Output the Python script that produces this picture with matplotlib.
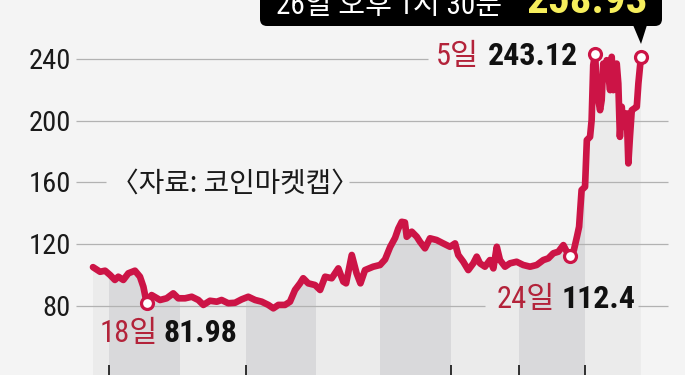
import matplotlib
matplotlib.use("Agg")
import matplotlib.pyplot as plt
from matplotlib import font_manager as fm
from matplotlib.patches import Polygon, FancyBboxPatch
from matplotlib.transforms import IdentityTransform, blended_transform_factory

# ---------------- data ----------------
days = [0, 3.1, 5.3, 7.5, 9.6, 11.1, 13.3, 15.5, 18.4, 20.6, 22.1, 23.5, 25.7, 29.4, 32.3,
        35.2, 37.4, 40.4, 43.3, 46.2, 48.4, 51.3, 54.3, 56.4, 59.3, 62.3, 65.2, 68.1, 71.1,
        74.0, 76.9, 79.1, 81.3, 84.2, 86.4, 88.6, 90.8, 92.2, 94.4, 97.4, 99.6, 101.8, 104.7,
        107.6, 109.8, 111.0, 113.5, 115.6, 117.3, 119.3, 122.9, 125.9, 128.1, 130.3, 132.5,
        133.9, 135.4, 136.8, 137.6, 139.8, 142.0, 143.4, 145.6, 147.8, 150.7, 153.6, 156.6,
        158.8, 160.2, 162.4, 164.6, 166.8, 168.3, 169.7, 171.9, 174.1, 175.6, 177.1, 178.5,
        180.7, 182.9, 185.8, 188.7, 191.7, 194.6, 197.5, 199.7, 201.9, 204.1, 206.3, 207.8,
        209.2, 210.9, 212.3, 213.2, 214.3, 215.8, 216.6, 218.0, 218.7, 219.4, 220.2, 221.1,
        222.4, 223.1, 223.8, 224.6, 225.3, 226.8, 227.5, 228.2, 229.7, 230.4, 231.1, 231.9,
        232.6, 234.1, 234.8, 235.5, 236.3, 237.4, 238.5, 239.2, 240.3]
values = [105.0, 102.0, 102.7, 99.9, 96.7, 98.8, 96.7, 101.0, 102.7, 98.8, 92.3, 81.98, 86.9,
          83.7, 84.8, 88.0, 84.8, 84.8, 85.8, 83.7, 80.5, 83.2, 82.6, 83.7, 81.6, 81.9, 84.1,
          85.8, 83.7, 82.6, 80.5, 78.3, 80.5, 80.5, 82.6, 90.2, 94.5, 97.8, 94.5, 93.4, 90.2,
          98.8, 97.8, 104.2, 95.6, 94.5, 112.9, 101.0, 94.5, 103.1, 105.3, 106.4, 110.0, 118.0,
          124.0, 130.0, 134.4, 134.0, 124.7, 128.0, 124.7, 121.5, 117.2, 123.7, 122.6, 120.4,
          118.2, 120.4, 112.9, 108.5, 103.1, 107.5, 111.8, 107.5, 105.3, 109.6, 104.2, 118.2,
          109.6, 105.3, 107.5, 108.5, 106.4, 105.3, 106.4, 109.6, 110.7, 114.0, 115.0, 119.3,
          115.0, 112.4, 116.0, 125.0, 131.2, 155.0, 157.1, 187.4, 189.5, 200.3, 236.0, 243.12,
          218.0, 206.8, 213.3, 237.0, 228.4, 239.2, 219.8, 241.4, 219.8, 237.0, 224.1, 189.5,
          209.0, 196.0, 204.7, 172.3, 189.5, 206.8, 207.9, 209.0, 224.1, 241.0]

month_edges = [0, 7, 38, 67, 98, 126, 157, 187, 216, 240.3]
tick_days = [7, 67, 157, 187, 216]
y_ticks = [80, 120, 160, 200, 240]
y_tick_labels = ["80", "120", "160", "200", "240"]

marker_days = [23.5, 209.2, 220.2, 240.3]
label_dates = ["18일", "24일", "5일"]
label_values = ["81.98", "112.4", "243.12"]
source_text = "〈자료: 코인마켓캡〉"
title_time = "26일 오후 1시 30분"
title_value = "258.93"

# ---------------- style ----------------
W, H = 685, 375
BG = "#f4f4f4"
BAND_LIGHT = "#ebebeb"
BAND_DARK = "#d9d9db"
GRID = "#b2b2b2"
LINE = "#cc1446"
RED_TXT = "#b3233a"
BLACK = "#111111"
YELLOW = "#f6ee5c"

names = {f.name for f in fm.fontManager.ttflist}
NUM, scale = "Liberation Sans", 0.82
for cand in ["Liberation Sans Narrow", "Roboto Condensed", "DejaVu Sans Condensed"]:
    if cand in names:
        NUM, scale = cand, 1.0
        break
KR = "Noto Sans CJK KR"

# pixel layout -> data helpers (layout only)
X0PX, PXD = 93.0, 2.28            # px of day 0, px per day
Y80PX, PXV = 305.7, 1.542         # px of value 80, px per unit
def dx(px):
    return (px - X0PX) / PXD
def vy(py):
    return 80 + (Y80PX - py) / PXV

fig = plt.figure(figsize=(W / 100, H / 100), dpi=100, facecolor=BG)
ax = fig.add_axes([0, 0, 1, 1])
ax.set_facecolor(BG)
ax.set_xlim(dx(0), dx(W))
ax.set_ylim(vy(H), vy(0))
for s in ax.spines.values():
    s.set_visible(False)
ax.set_yticks([])
ax.set_xticks(tick_days)
ax.tick_params(axis="x", direction="in", length=7.5, width=1.2, color=BLACK,
               labelbottom=False)

# area under the curve with alternating month bands
ybot = vy(H)
verts = [(days[0], ybot)] + list(zip(days, values)) + [(days[-1], ybot)]
clip = Polygon(verts, closed=True, facecolor="none", edgecolor="none")
ax.add_patch(clip)
for i in range(len(month_edges) - 1):
    c = BAND_LIGHT if i % 2 == 0 else BAND_DARK
    span = ax.axvspan(month_edges[i], month_edges[i + 1], color=c, lw=0, zorder=1)
    span.set_clip_path(clip)

# gridlines (broken where labels sit)
grid_segments = {80: [(76, 485), (638, 668)], 120: [(76, 668)],
                 160: [(76, 106), (349, 668)], 200: [(76, 668)], 240: [(76, 428)]}
for yv in y_ticks:
    for a, b in grid_segments[yv]:
        ax.plot([dx(a), dx(b)], [yv, yv], color=GRID, lw=0.9, zorder=2,
                solid_capstyle="butt")

# y labels
tr = blended_transform_factory(ax.transAxes, ax.transData)
for yv, lab in zip(y_ticks, y_tick_labels):
    ax.text(71 / W, yv - 6.4, lab, transform=tr, ha="right", va="baseline",
            fontsize=20.5 * scale, family=NUM, color="#1a1a1a", zorder=5)

# line
ax.plot(days, values, color=LINE, lw=4.8, solid_joinstyle="round",
        solid_capstyle="round", zorder=3)
idx = [days.index(d) for d in marker_days]
ax.plot([days[i] for i in idx], [values[i] for i in idx], "o", ms=8.6, mew=2.3,
        mfc="white", mec=LINE, zorder=4)

# labels
lab_pos = [((158, 342), (164, 342)), ((555, 308), (562, 308)), ((479, 65), (488, 65))]
for (rp, bp), dlab, vlab in zip(lab_pos, label_dates, label_values):
    ax.text(dx(rp[0]), vy(rp[1]), dlab, ha="right", va="baseline", color=RED_TXT,
            fontsize=22 * scale, family=[NUM, KR], zorder=5)
    ax.text(dx(bp[0]), vy(bp[1]), vlab, ha="left", va="baseline", color=BLACK,
            fontsize=23 * scale, family=NUM, fontweight="bold", zorder=5)

ax.text(dx(111), vy(192), source_text, ha="left", va="baseline", color="#1a1a1a",
        fontsize=20, family=[KR, "DejaVu Sans"], zorder=5)

# title box with pointer
box = FancyBboxPatch((260, H - 26), 402, 40, boxstyle="round,pad=0,rounding_size=7",
                     transform=IdentityTransform(), facecolor="black", edgecolor="none",
                     clip_on=False, zorder=6)
ax.add_patch(box)
tri = Polygon([(633, H - 25), (647, H - 25), (641, H - 44)], closed=True,
              transform=IdentityTransform(), facecolor="black", edgecolor="none",
              clip_on=False, zorder=6)
ax.add_patch(tri)
fig.text(276 / W, 1 - 14 / H, title_time, ha="left", va="baseline", color="white",
         fontsize=21, family=[NUM, KR], zorder=7)
fig.text(527 / W, 1 - 13 / H, title_value, ha="left", va="baseline", color=YELLOW,
         fontsize=31 * scale, family=NUM, fontweight="bold", zorder=7)

fig.savefig("out.png", dpi=100, facecolor=BG)
